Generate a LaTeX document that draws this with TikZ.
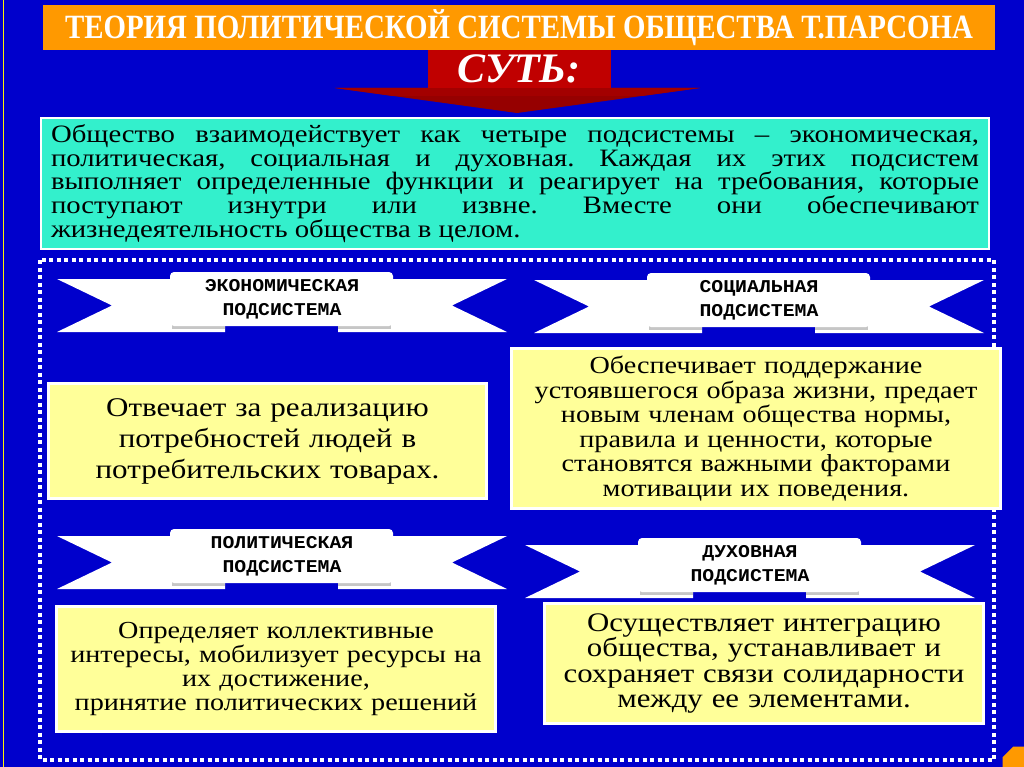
\documentclass[tikz,border=0pt]{standalone}
\usepackage{fontspec}
\setmainfont{Liberation Serif}
\newfontfamily\slidefont{Liberation Serif}[FakeStretch=1.15, Ligatures=TeX]
\newfontfamily\ribbonfont{Liberation Mono}[FakeStretch=1.1]
\usepackage{graphicx}
\usepackage{tikz}
\usetikzlibrary{shapes.geometric, positioning}
\frenchspacing

\definecolor{slideblue}{RGB}{0,0,204}
\definecolor{titleorange}{RGB}{255,153,0}
\definecolor{sutred}{RGB}{192,0,0}
\definecolor{sutdark}{RGB}{150,0,0}
\definecolor{essenceteal}{RGB}{51,240,204}
\definecolor{notepale}{RGB}{255,255,153}

\begin{document}
\begin{tikzpicture}[
        x=1pt, y=-1pt,
        header/.style={rectangle, fill=titleorange, inner sep=0pt, outer sep=0pt, text=white, font=\fontsize{34}{34}\selectfont\bfseries},
        sutbox/.style={rectangle, fill=sutred, inner sep=0pt, outer sep=0pt, text=white, font=\fontsize{42}{42}\selectfont\bfseries\itshape},
        essencebox/.style={rectangle, draw=white, line width=2.5pt, fill=essenceteal, inner sep=0pt, align=justify, font=\slidefont\fontsize{25}{23.8}\selectfont},
        note/.style={rectangle, draw=white, line width=2.5pt, fill=notepale, inner sep=0pt, align=center},
        ribbontext/.style={align=center, inner sep=0pt, font=\ribbonfont\bfseries\fontsize{18}{24}\selectfont},
        dotframe/.style={draw=white, line width=4pt, dash pattern=on 4pt off 3.5pt}
    ]

    % Slide
    \useasboundingbox (0,0) rectangle (1024,767);
    \fill[slideblue] (0,0) rectangle (1024,767);
    \draw[yellow, line width=1.5pt] (3.5,0) -- (3.5,767);

    % Title and arrow
    \node (title) [header, minimum width=952, minimum height=45] at (519,27.5)
        {\scalebox{0.85}[1]{ТЕОРИЯ ПОЛИТИЧЕСКОЙ СИСТЕМЫ ОБЩЕСТВА Т.ПАРСОНА}};
    \fill[sutdark] (335,88) -- (700,88) -- (517,113) -- cycle;
    \fill[sutred!85!black] (335,88) -- (700,88) -- (642,96) -- (393,96) -- cycle;
    \node (sut) [sutbox, minimum width=183, minimum height=38, below=0pt of title] {СУТЬ:};

    % Essence
    \node (essence) [essencebox, minimum width=948, minimum height=131, text width=928] at (515,183.5)
        {Общество взаимодействует как четыре подсистемы – экономическая,\linebreak
         политическая, социальная и духовная. Каждая их этих подсистем\linebreak
         выполняет определенные функции и реагирует на требования, которые\linebreak
         поступают изнутри или извне. Вместе они обеспечивают\linebreak
         жизнедеятельность общества в целом.};

    \draw[dotframe] (40,260) rectangle (994,760);

    % Ribbons
    \foreach \cx/\ty/\nm/\word in {282/279/econ/ЭКОНОМИЧЕСКАЯ, 759/280/social/СОЦИАЛЬНАЯ,
                                   282/536/polit/ПОЛИТИЧЕСКАЯ, 750/545/spirit/ДУХОВНАЯ} {
        \fill[white] ({\cx-225},\ty) -- ({\cx-57},\ty) -- ({\cx-57},{\ty+53}) -- ({\cx-225},{\ty+53}) -- ({\cx-170},{\ty+26.5}) -- cycle;
        \fill[white] ({\cx+225},\ty) -- ({\cx+56},\ty) -- ({\cx+56},{\ty+53}) -- ({\cx+225},{\ty+53}) -- ({\cx+170},{\ty+26.5}) -- cycle;
        \fill[gray!45] ({\cx-110},{\ty+46}) rectangle ({\cx-57},{\ty+50});
        \fill[gray!45] ({\cx+56},{\ty+46}) rectangle ({\cx+109},{\ty+50});
        \fill[white, rounded corners=4pt] ({\cx-112},{\ty-7}) rectangle ({\cx+111},{\ty+47});
        \node (\nm) [ribbontext] at (\cx,{\ty+20}) {\word\\ПОДСИСТЕМА};
    }

    % Notes
    \node (econnote) [note, minimum width=438, minimum height=115, text width=430, font=\slidefont\fontsize{27}{31}\selectfont] at (267.5,441)
        {Отвечает за реализацию\\потребностей людей в\\потребительских товарах.};
    \node (socialnote) [note, minimum width=489, minimum height=160, text width=480, font=\slidefont\fontsize{24.5}{24.5}\selectfont] at (756,428.5)
        {Обеспечивает поддержание\\устоявшегося образа жизни, предает\\новым членам общества нормы,\\правила и ценности, которые\\становятся важными факторами\\мотивации их поведения.};
    \node (politnote) [note, minimum width=439, minimum height=125, text width=430, font=\slidefont\fontsize{24.5}{23.7}\selectfont] at (276,669)
        {Определяет коллективные\\интересы, мобилизует ресурсы на\\их достижение,\\принятие политических решений};
    \node (spiritnote) [note, minimum width=439, minimum height=120, text width=430, font=\slidefont\fontsize{26.8}{25.5}\selectfont] at (764,663.5)
        {Осуществляет интеграцию\\общества, устанавливает и\\сохраняет связи солидарности\\между ее элементами.};

    \node (corner) [regular polygon, regular polygon sides=8, fill=titleorange, minimum size=40, inner sep=0pt] at (1021,765) {};

    \end{tikzpicture}
\end{document}
